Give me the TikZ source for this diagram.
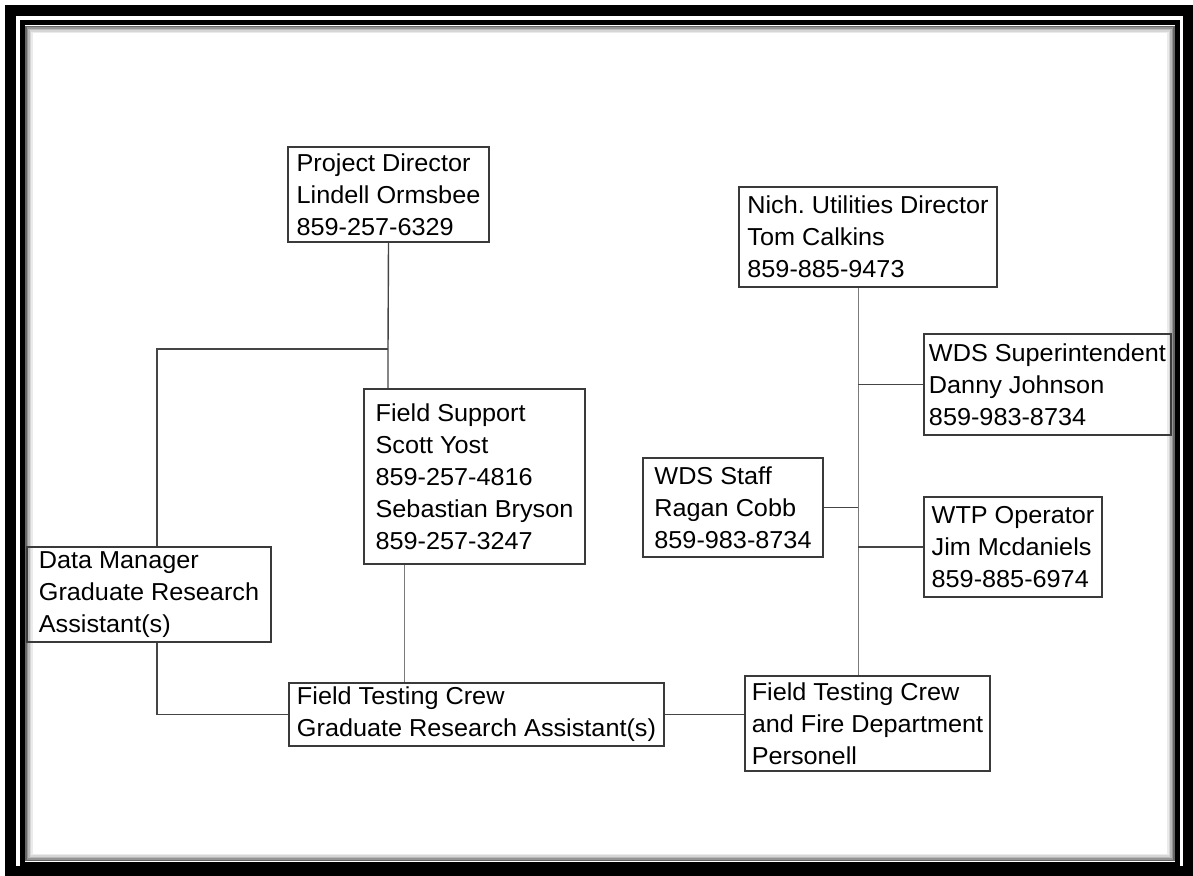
\documentclass[tikz,border=0pt]{standalone}
\usepackage{fontspec}
\setmainfont{Liberation Sans}[FakeStretch=1.03]
\frenchspacing
\definecolor{boxline}{HTML}{3A3A3A}
\definecolor{linkline}{HTML}{454545}
\definecolor{thinline}{HTML}{7A7A7A}
\tikzset{
  orgbox/.style={draw=boxline, line width=1.4pt, rectangle, inner xsep=2pt,
    inner ysep=0pt, align=left, font=\fontsize{24.5}{32}\selectfont},
  link/.style={draw=linkline, line width=1.4pt},
  thinlink/.style={draw=thinline, line width=1pt}
}
\begin{document}
\begin{tikzpicture}[x=1pt,y=-1pt]
  \useasboundingbox (0,0) rectangle (1193,875);
  % frame
  \draw[line width=11pt] (10.5,10.5) rectangle (1188,871);
  \draw[line width=5pt] (22.5,23) rectangle (1177.5,864);
  \foreach \i/\c in {3.5/60,5/42,6.5/28,8/16,9.5/8}
    \draw[line width=1.6pt, black!\c] ({22.5+\i},{23+\i}) rectangle ({1177.5-\i},{864-\i});

  % boxes
  \node[orgbox, minimum width=201pt, minimum height=95pt] (pd) at (388.5,194.5)
    {Project Director\\Lindell Ormsbee\\859-257-6329};
  \node[orgbox, minimum width=258pt, minimum height=100pt] (nich) at (868,237)
    {Nich. Utilities Director\\Tom Calkins\\859-885-9473};
  \node[orgbox, minimum width=247pt, minimum height=101pt] (sup) at (1047.5,384.5)
    {WDS Superintendent\\Danny Johnson\\859-983-8734};
  \node[orgbox, minimum width=221pt, minimum height=175pt] (fs) at (474.5,476.5)
    {Field Support\\Scott Yost\\859-257-4816\\Sebastian Bryson\\859-257-3247};
  \node[orgbox, minimum width=180pt, minimum height=99pt] (staff) at (733,507.5)
    {WDS Staff\\Ragan Cobb\\859-983-8734};
  \node[orgbox, minimum width=178pt, minimum height=100pt] (wtp) at (1013,547)
    {WTP Operator\\Jim Mcdaniels\\859-885-6974};
  \node[orgbox, minimum width=244pt, minimum height=95pt] (dm) at (149,594.5)
    {Data Manager\\Graduate Research\\Assistant(s)};
  \node[orgbox, minimum width=375pt, minimum height=63pt] (ftc) at (476.5,714.5)
    {Field Testing Crew\\Graduate Research Assistant(s)};
  \node[orgbox, minimum width=245pt, minimum height=95pt] (ftcf) at (867.5,723.5)
    {Field Testing Crew\\and Fire Department\\Personell};

  % junctions
  \coordinate (pdjoin) at (388,349);
  \coordinate (dmjoin) at (157,349);
  \coordinate (fsx) at (404,0);
  \coordinate (trunk) at (858,0);

  % left tree
  \draw[link] (pd.south) -- (pdjoin) -- (pdjoin |- fs.north);
  \draw[link] (pdjoin) -- (dmjoin) -- (dmjoin |- dm.north);
  \draw[link] (dmjoin |- dm.south) -- (dmjoin |- ftc.west) -- (ftc.west);
  \draw[thinlink] (fsx |- fs.south) -- (fsx |- ftc.north);
  \draw[link] (ftc.east) -- (ftc.east -| ftcf.west);

  % right tree
  \draw[thinlink] (trunk |- nich.south) -- (trunk |- ftcf.north);
  \draw[link] (trunk |- sup.west) -- (sup.west);
  \draw[link] (staff.east) -- (trunk |- staff.east);
  \draw[link] (trunk |- wtp.west) -- (wtp.west);
\end{tikzpicture}
\end{document}
